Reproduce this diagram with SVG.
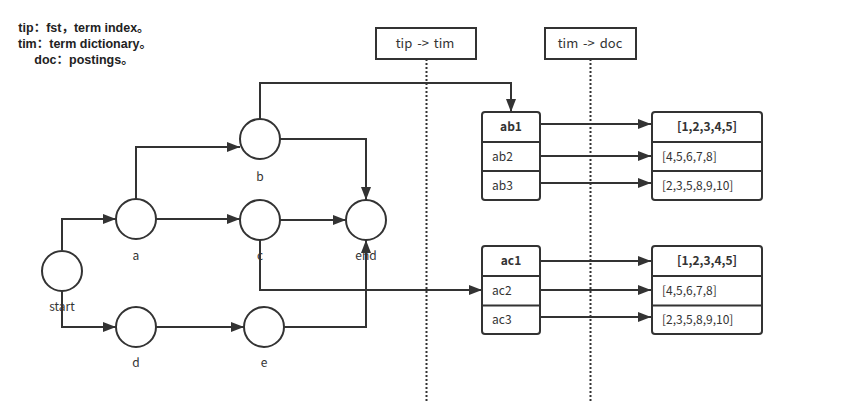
<svg xmlns="http://www.w3.org/2000/svg" width="857" height="403" viewBox="0 0 857 403">
<defs>
<marker id="arr" markerUnits="userSpaceOnUse" markerWidth="14" markerHeight="10" refX="13" refY="5" orient="auto">
<path d="M0,0 L13,5 L0,10 z" fill="#333"/>
</marker>
<style>
text{font-family:"Noto Sans CJK SC","Noto Sans",sans-serif;font-size:12px;fill:#333}
.b{font-weight:bold}
.legend{font-family:"Liberation Sans","Noto Sans CJK SC",sans-serif;font-weight:bold;font-size:12.5px;fill:#222;text-anchor:middle}
.m{text-anchor:middle}
.lbl{font-size:13px;word-spacing:2px}
.node{fill:#fff;stroke:#333;stroke-width:2}
.edge{fill:none;stroke:#333;stroke-width:2;marker-end:url(#arr)}
.line{fill:none;stroke:#333;stroke-width:2}
.dot{fill:none;stroke:#333;stroke-width:2;stroke-dasharray:2 2}
.box{fill:#fff;stroke:#333;stroke-width:2}
</style>
</defs>
<rect width="857" height="403" fill="#fff"/>
<g id="legend">
<text class="legend" x="84" y="32">tip：fst，term index。</text>
<text class="legend" x="85" y="48">tim：term dictionary。</text>
<text class="legend" x="84" y="64">doc：postings。</text>
</g>
<g id="dividers">
<line class="dot" x1="426.5" y1="59" x2="426.5" y2="403"/>
<line class="dot" x1="590.5" y1="59" x2="590.5" y2="403"/>
</g>
<g id="tip-tim">
<rect class="box" x="376" y="28" width="100" height="31"/>
<text class="m lbl" x="425" y="48">tip -&gt; tim</text>
</g>
<g id="tim-doc">
<rect class="box" x="545" y="28" width="91" height="31"/>
<text class="m lbl" x="590" y="48">tim -&gt; doc</text>
</g>
<g id="connectors">
<path class="edge" d="M62,250 V219 H116"/>
<path class="edge" d="M62,291 V327 H116"/>
<path class="edge" d="M136,199 V147 H240"/>
<path class="edge" d="M156,219 H240"/>
<path class="edge" d="M156,327 H244"/>
<path class="edge" d="M280,139 H366 V200"/>
<path class="edge" d="M280,220 H346"/>
<path class="edge" d="M284,327 H366 V240"/>
<path class="edge" d="M260,240 V290 H482"/>
<path class="edge" d="M260,119 V83 H511 V112"/>
<path class="edge" d="M540,124 H651"/>
<path class="edge" d="M540,156 H651"/>
<path class="edge" d="M540,183 H651"/>
<path class="edge" d="M540,261 H651"/>
<path class="edge" d="M540,290 H651"/>
<path class="edge" d="M540,317 H651"/>
</g>
<g id="start">
<circle class="node" cx="62" cy="271" r="20"/>
<text class="m" x="62" y="311">start</text>
</g>
<g id="a">
<circle class="node" cx="136" cy="219" r="20"/>
<text class="m" x="136" y="260">a</text>
</g>
<g id="b">
<circle class="node" cx="260" cy="139" r="20"/>
<text class="m" x="260" y="181">b</text>
</g>
<g id="c">
<circle class="node" cx="260" cy="220" r="20"/>
<text class="m" x="260" y="260">c</text>
</g>
<g id="end">
<circle class="node" cx="366" cy="220" r="20"/>
<text class="m" x="366" y="260">end</text>
</g>
<g id="d">
<circle class="node" cx="136" cy="327" r="20"/>
<text class="m" x="136" y="367">d</text>
</g>
<g id="e">
<circle class="node" cx="264" cy="327" r="20"/>
<text class="m" x="264" y="367">e</text>
</g>
<g id="ab-table">
<rect class="box" x="482" y="112" width="58" height="88" rx="3"/>
<line class="line" x1="482" y1="142" x2="540" y2="142"/>
<line class="line" x1="482" y1="171" x2="540" y2="171"/>
<text class="b m" x="511" y="131">ab1</text>
<text x="492" y="161">ab2</text>
<text x="492" y="190">ab3</text>
</g>
<g id="ab-postings">
<rect class="box" x="652" y="112" width="110" height="88" rx="3"/>
<line class="line" x1="652" y1="142" x2="762" y2="142"/>
<line class="line" x1="652" y1="171" x2="762" y2="171"/>
<text class="b m" x="707" y="131">[1,2,3,4,5]</text>
<text x="662" y="161">[4,5,6,7,8]</text>
<text x="662" y="190">[2,3,5,8,9,10]</text>
</g>
<g id="ac-table">
<rect class="box" x="482" y="246" width="58" height="88" rx="3"/>
<line class="line" x1="482" y1="276" x2="540" y2="276"/>
<line class="line" x1="482" y1="305.5" x2="540" y2="305.5"/>
<text class="b m" x="511" y="265">ac1</text>
<text x="492" y="295">ac2</text>
<text x="492" y="324">ac3</text>
</g>
<g id="ac-postings">
<rect class="box" x="652" y="246" width="110" height="88" rx="3"/>
<line class="line" x1="652" y1="276" x2="762" y2="276"/>
<line class="line" x1="652" y1="305.5" x2="762" y2="305.5"/>
<text class="b m" x="707" y="265">[1,2,3,4,5]</text>
<text x="662" y="295">[4,5,6,7,8]</text>
<text x="662" y="324">[2,3,5,8,9,10]</text>
</g>
</svg>
